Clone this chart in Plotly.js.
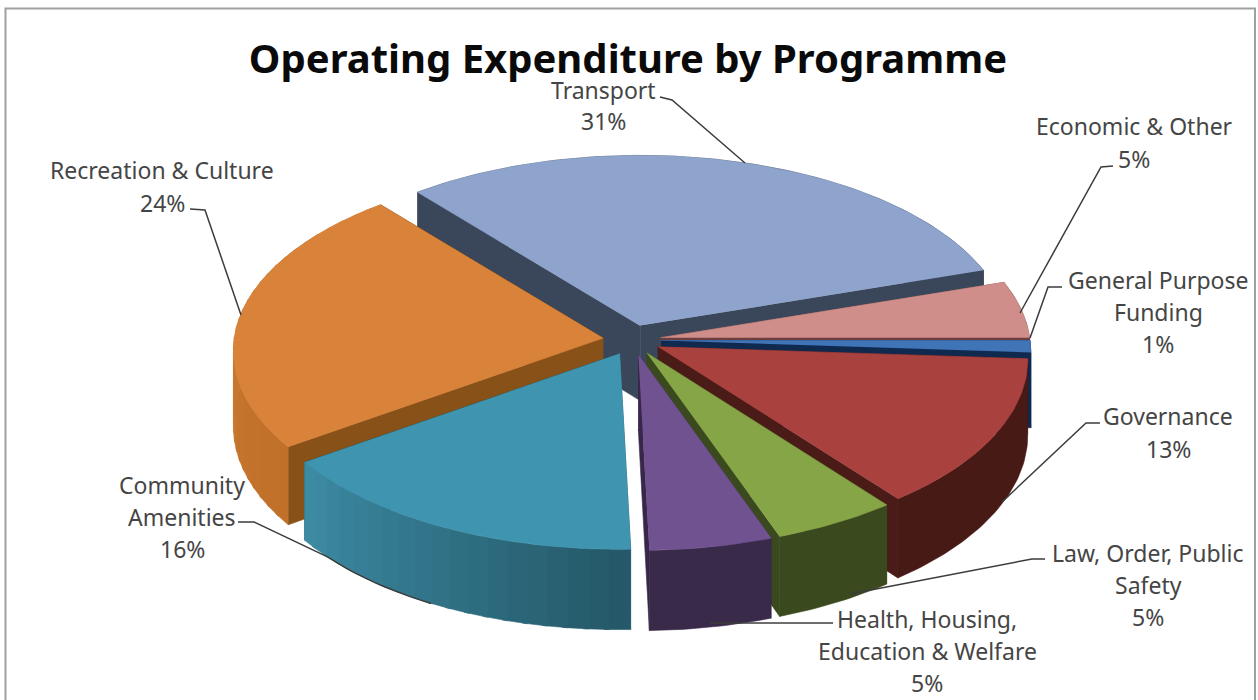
<!DOCTYPE html>
<html>
<head>
<meta charset="utf-8">
<title>Operating Expenditure by Programme</title>
<script src="https://cdn.plot.ly/plotly-3.0.1.min.js"></script>
<style>html,body{margin:0;padding:0;background:#fff}#chart{width:1258px;height:700px}</style>
</head>
<body>
<div id="chart"></div>
<script>
// Share of operating expenditure, clockwise from the first slice
const categories = ["Transport", "Economic & Other", "General Purpose Funding", "Governance",
  "Law, Order, Public Safety", "Health, Housing, Education & Welfare", "Community Amenities", "Recreation & Culture"];
const shares = [31, 5, 1, 13, 5, 5, 16, 24];

// Slice colours: top face, radial cut face, outer rim (near end, far end)
const topColors = ["#8FA4CD", "#CF8E8A", "#3F74B6", "#A9423F", "#86A547", "#715291", "#3F94AF", "#D8823A"];
const cutColors = ["#3A4659", "#6E3F3D", "#10294F", "#4A1B17", "#3A4A1E", "#38274A", "#245A6A", "#885118"];
const rimStart = ["#3A4659", "#6E3F3D", "#10294F", "#471A16", "#3A4A1E", "#392A4A", "#245766", "#C07028"];
const rimEnd = ["#3A4659", "#6E3F3D", "#10294F", "#471A16", "#3A4A1E", "#392A4A", "#3D8CA5", "#D08036"];

// Back-to-front painting order, as indexes into categories
const paintOrder = [0, 1, 2, 3, 4, 5, 7, 6];

// Label text per category; the percentage line is appended from shares
const labelLines = [["Transport"], ["Economic & Other"], ["General Purpose", "Funding"], ["Governance"],
  ["Law, Order, Public", "Safety"], ["Health, Housing,", "Education & Welfare"], ["Community", "Amenities"], ["Recreation & Culture"]];
const labelCenterX = [603, 1134, 1158, 1168, 1148, 927, 182, 162];
const labelTopY = [90, 126, 280, 416, 553, 619, 485, 170];
const labelLineGap = [31, 33, 32, 33, 32, 32, 32, 33];

// Leader lines from each label to its slice
const leaderX = [[660, 672, 745], [1113, 1101, 1020], [1062, 1048, 1030], [1100, 1086, 1002],
  [1045, 1032, 850], [833, 710], [238, 254], [190, 205, 241]];
const leaderY = [[97, 100, 163], [166, 167, 313], [287, 287, 338], [423, 423, 502],
  [559, 559, 594], [623, 623], [522, 522], [209, 210, 315]];
// The Community Amenities leader then follows the bottom of its rim between these angles
const communityLeaderAngles = [228, 207];

// Pie projection
const centerX = 632, centerY = 340, radiusX = 369, radiusY = 183, tilt = 0.07;
const explodeX = 29, explodeY = 15, depth = 75, startAngle = -39.6, frontTurn = 2;

const rad = d => d * Math.PI / 180;
const total = shares.reduce((a, b) => a + b, 0);

function project(apex, r, deg, lowered) {
  // Slices nearer the viewer turn slightly under the oblique view
  const cosBase = Math.cos(rad(deg));
  const turned = deg + frontTurn * Math.max(0, -cosBase);
  const c = Math.cos(rad(turned)), s = Math.sin(rad(turned));
  const f = 1 - tilt * r * c;
  return [apex[0] + radiusX * r * s * f,
          apex[1] - radiusY * r * c * f + (lowered ? depth * f : 0)];
}

function mixColor(a, b, t) {
  const p = h => [1, 3, 5].map(i => parseInt(h.substr(i, 2), 16));
  const x = p(a), y = p(b);
  return "rgb(" + x.map((v, i) => Math.round(v + (y[i] - v) * t)).join(",") + ")";
}

function face(points, color, name) {
  return {
    type: "scatter", mode: "lines", fill: "toself", fillcolor: color,
    x: points.map(p => p[0]), y: points.map(p => p[1]),
    line: {color: color, width: 0.6}, name: name, hoverinfo: "name", showlegend: false
  };
}

function apexOf(span) {
  const mid = (span[0] + span[1]) / 2;
  return [centerX + explodeX * Math.sin(rad(mid)), centerY - explodeY * Math.cos(rad(mid))];
}

// Angular extent of each slice
const spans = [];
let running = startAngle;
shares.forEach(v => { const sweep = v / total * 360; spans.push([running, running + sweep]); running += sweep; });

const traces = [];
paintOrder.forEach(i => {
  const [a0, a1] = spans[i], name = categories[i];
  const apex = apexOf(spans[i]);

  // The two radial cut faces
  [a0, a1].forEach(a => {
    traces.push(face([project(apex, 0, a, false), project(apex, 1, a, false),
                      project(apex, 1, a, true), project(apex, 0, a, true)], cutColors[i], name));
  });

  // Outer rim; shaded rims are split into overlapping strips
  const strips = rimStart[i] === rimEnd[i] ? 1 : Math.round((a1 - a0) / 3);
  for (let k = 0; k < strips; k++) {
    const b0 = a0 + (a1 - a0) * k / strips;
    const b1 = Math.min(a1, a0 + (a1 - a0) * (k + 1) / strips + 0.8);
    const n = Math.ceil(b1 - b0) + 1;
    const pts = [];
    for (let t = 0; t <= n; t++) pts.push(project(apex, 1, b0 + (b1 - b0) * t / n, false));
    for (let t = n; t >= 0; t--) pts.push(project(apex, 1, b0 + (b1 - b0) * t / n, true));
    traces.push(face(pts, mixColor(rimStart[i], rimEnd[i], (k + 0.5) / strips), name));
  }

  // Top face
  const top = [project(apex, 0, a0, false)];
  const steps = Math.ceil(a1 - a0);
  for (let t = 0; t <= steps; t++) top.push(project(apex, 1, a0 + (a1 - a0) * t / steps, false));
  traces.push(face(top, topColors[i], name));
});

// Leader lines
leaderX.forEach((xs, i) => {
  let lx = xs.slice(), ly = leaderY[i].slice();
  if (categories[i] === "Community Amenities") {
    const apex = apexOf(spans[i]);
    const [from, to] = communityLeaderAngles;
    for (let t = 0; t <= 10; t++) {
      const p = project(apex, 1, from + (to - from) * t / 10, true);
      lx.push(p[0]); ly.push(p[1]);
    }
  }
  traces.push({type: "scatter", mode: "lines", x: lx, y: ly,
    line: {color: "#3c3c3c", width: 1.5}, hoverinfo: "skip", showlegend: false});
});

// One annotation per text line keeps the line spacing exact
const annotations = [];
categories.forEach((_, i) => {
  labelLines[i].concat([shares[i] + "%"]).forEach((text, n) => {
    annotations.push({x: labelCenterX[i], y: labelTopY[i] + n * labelLineGap[i], text: text,
      xref: "x", yref: "y", showarrow: false, xanchor: "center", yanchor: "middle",
      font: {family: "Noto Sans, sans-serif", size: 23, color: "#454545"}});
  });
});

const layout = {
  width: 1258, height: 700, margin: {l: 0, r: 0, t: 0, b: 0},
  paper_bgcolor: "#fff", plot_bgcolor: "#fff", showlegend: false,
  title: {text: "<b>Operating Expenditure by Programme</b>", x: 628 / 1258, xref: "paper", xanchor: "center",
          y: 1 - 59 / 700, yref: "container", yanchor: "middle",
          font: {family: "Noto Sans, sans-serif", size: 40, color: "#0a0a0a"}},
  xaxis: {range: [0, 1258], visible: false, fixedrange: true},
  yaxis: {range: [700, 0], visible: false, fixedrange: true},
  annotations: annotations,
  shapes: [{type: "rect", xref: "x", yref: "y", x0: 5.5, y0: 8.5, x1: 1255, y1: 712,
            line: {color: "#a0a0a0", width: 2}, fillcolor: "rgba(0,0,0,0)", layer: "below"}]
};

Plotly.newPlot("chart", traces, layout, {displayModeBar: false, staticPlot: true});
</script>
</body>
</html>
